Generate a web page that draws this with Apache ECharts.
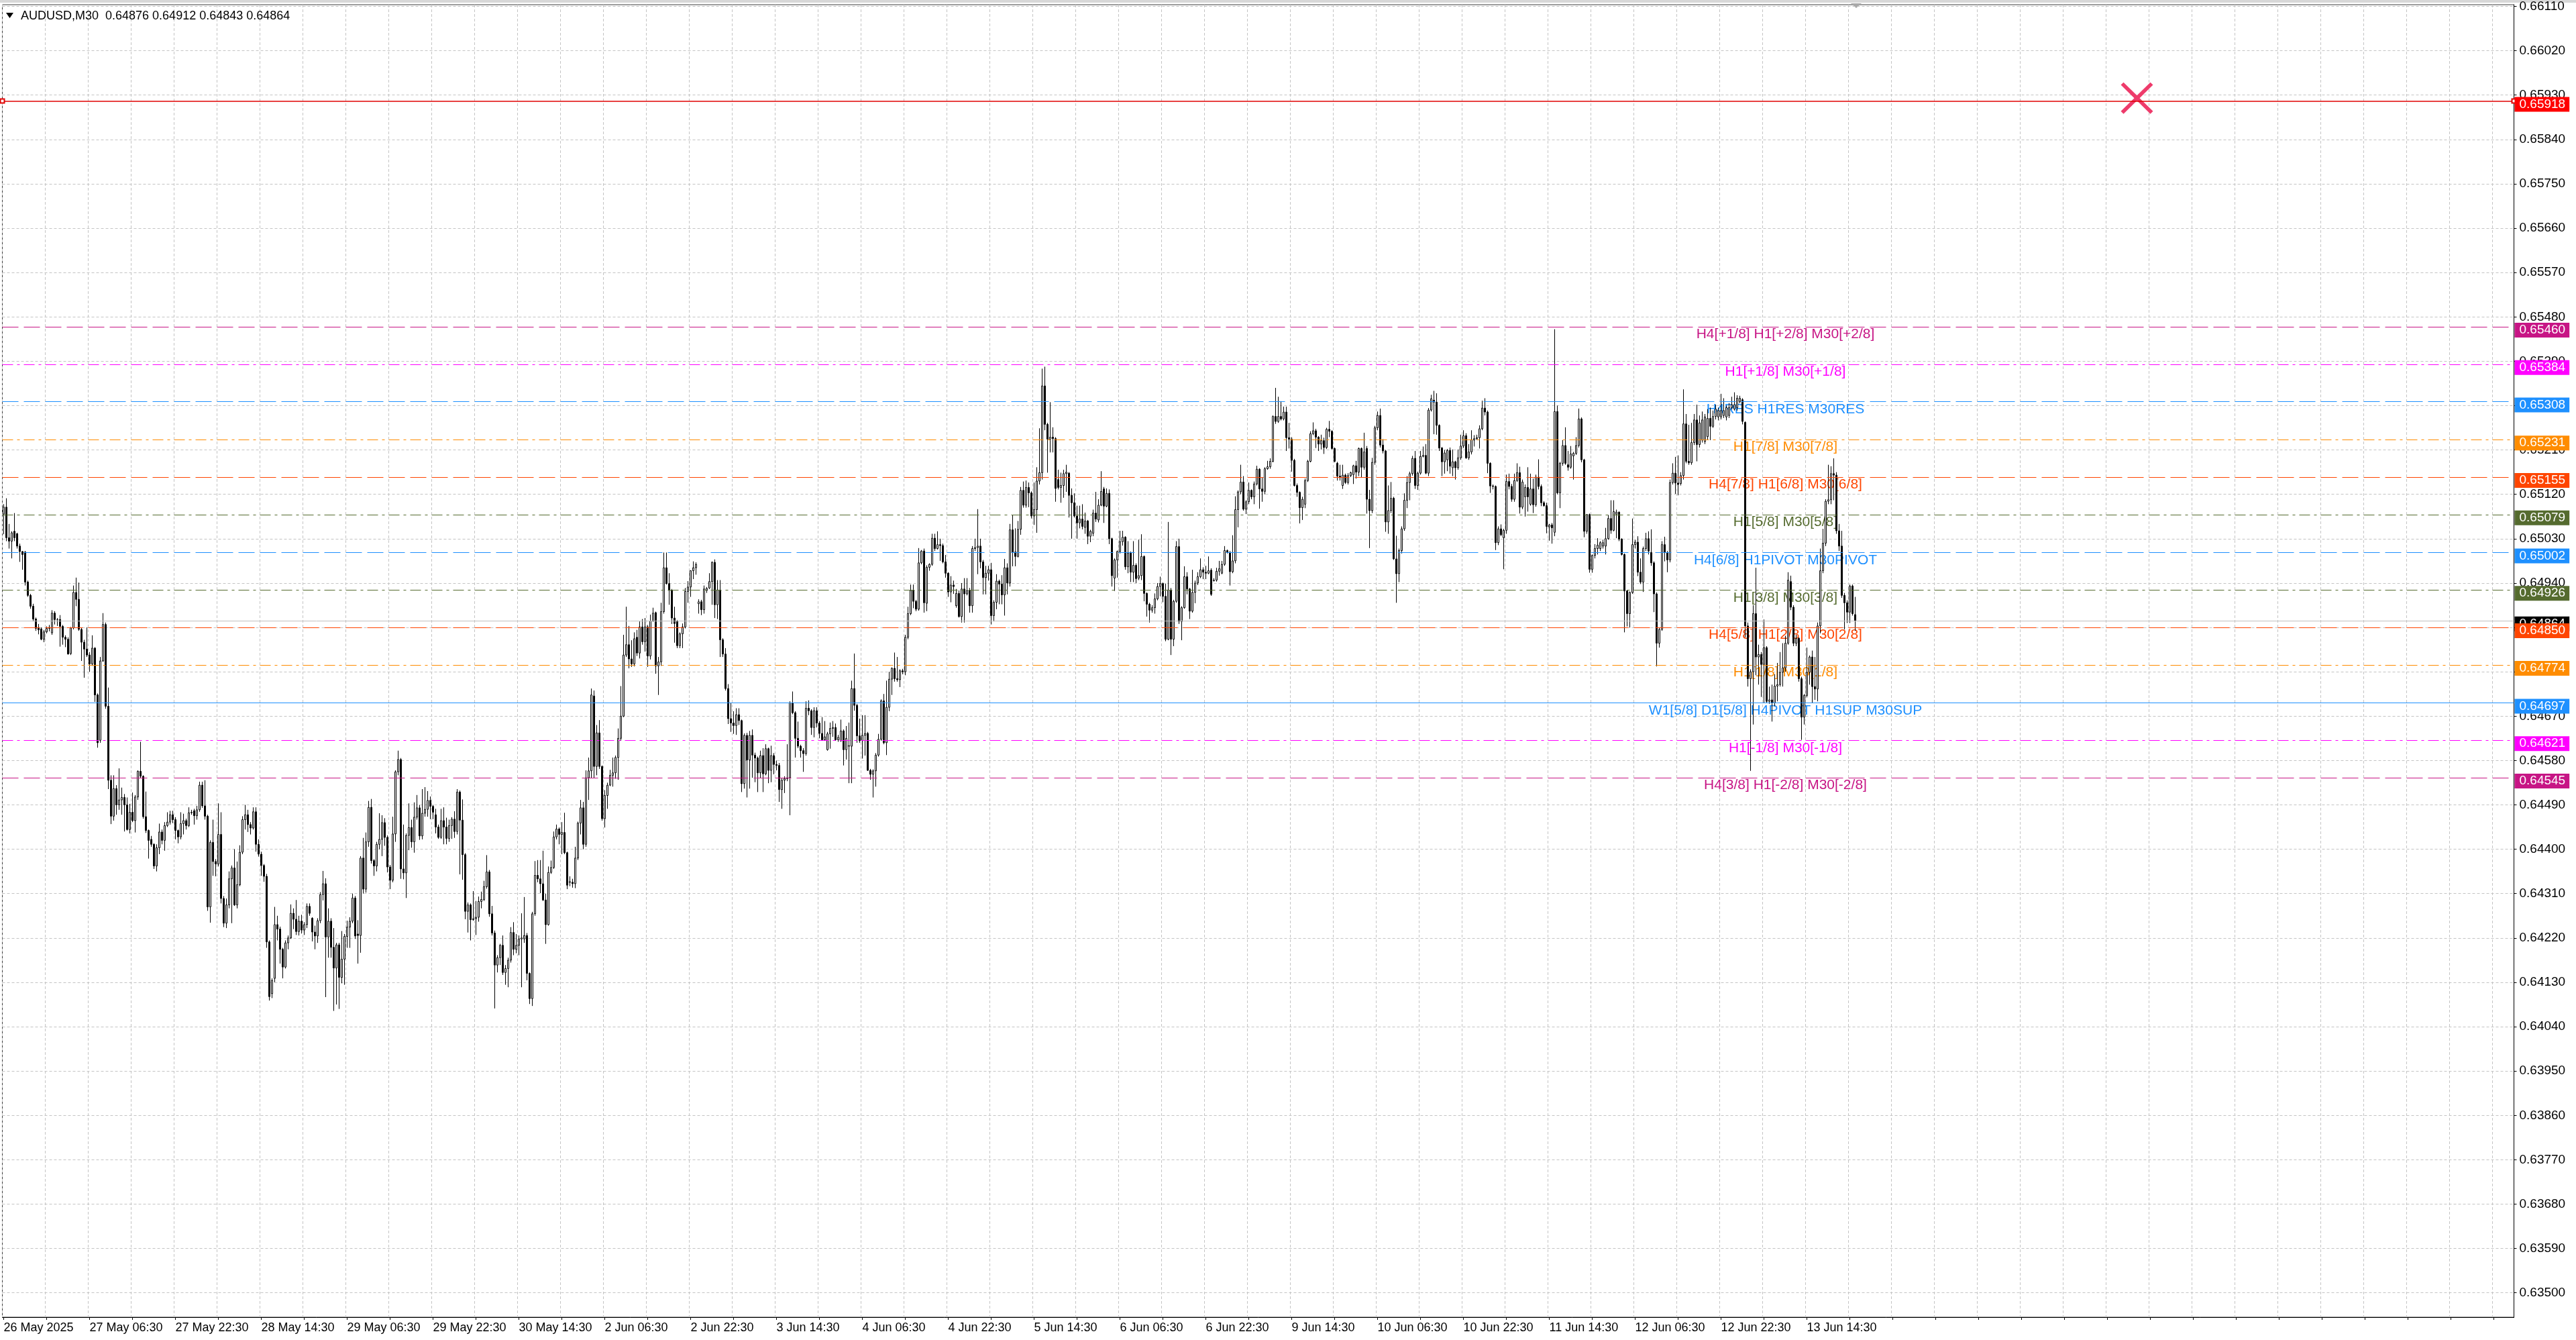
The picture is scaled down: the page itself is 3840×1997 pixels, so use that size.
<!DOCTYPE html>
<html><head><meta charset="utf-8">
<script src="https://cdn.jsdelivr.net/npm/echarts@6.0.0/dist/echarts.min.js"></script>
<style>html,body{margin:0;padding:0;background:#fff;overflow:hidden}#c{width:3840px;height:1997px}</style>
</head><body><div id="c"></div>
<script>
const symbolName = 'AUDUSD,M30';
const firstLabel = '26 May 2025';
const tradingDays = ['26 May','27 May','28 May','29 May','30 May','2 Jun','3 Jun','4 Jun','5 Jun','6 Jun','9 Jun','10 Jun','11 Jun','12 Jun','13 Jun'];
const firstSlot = 29;      // 14:30 on the first day
const totalSlots = 936;    // bars visible across the chart incl. empty right margin

// prices in points (1e-5)
const opens = [
65080,65094,65032,65025,65045,65040,65015,65004,65003,64942,
64915,64893,64867,64850,64847,64826,64841,64848,64839,64879,
64866,64866,64852,64830,64826,64797,64849,64921,64907,64846,
64820,64806,64794,64776,64808,64713,64621,64782,64856,64690,
64540,64467,64523,64490,64500,64505,64490,64440,64475,64458,
64506,64558,64548,64466,64438,64420,64410,64366,64403,64435,
64418,64448,64455,64470,64460,64438,64425,64452,64458,64448,
64474,64478,64468,64480,64530,64488,64467,64283,64414,64375,
64370,64430,64300,64250,64287,64340,64362,64287,64328,64394,
64460,64470,64450,64443,64476,64410,64390,64367,64345,64212,
64107,64138,64247,64238,64197,64161,64210,64220,64270,64258,
64233,64254,64236,64247,64284,64260,64232,64224,64255,64308,
64330,64222,64254,64201,64159,64206,64140,64177,64223,64242,
64254,64301,64228,64225,64382,64319,64415,64485,64377,64366,
64410,64420,64454,64424,64364,64337,64431,64557,64582,64360,
64352,64428,64444,64415,64465,64484,64427,64473,64481,64499,
64487,64470,64445,64424,64458,64445,64422,64448,64461,64436,
64516,64459,64389,64274,64287,64257,64259,64262,64294,64298,
64324,64354,64269,64230,64165,64180,64205,64150,64158,64175,
64231,64197,64205,64218,64218,64225,64148,64097,64269,64347,
64340,64330,64297,64247,64353,64363,64425,64441,64430,64434,
64393,64334,64333,64330,64382,64453,64484,64410,64545,64559,
64711,64568,64636,64568,64462,64509,64530,64550,64555,64586,
64625,64670,64794,64815,64786,64776,64830,64798,64851,64821,
64851,64792,64863,64880,64772,64780,64882,64971,64939,64925,
64869,64862,64813,64837,64851,64923,64932,64965,64971,64898,
64902,64886,64925,64930,64943,64982,64896,64926,64825,64796,
64726,64665,64656,64651,64673,64661,64533,64631,64581,64631,
64591,64585,64555,64590,64553,64604,64560,64590,64572,64570,
64521,64540,64543,64545,64697,64677,64625,64609,64600,64594,
64686,64681,64647,64681,64656,64635,64622,64602,64634,64645,
64647,64622,64620,64640,64602,64610,64609,64726,64692,64630,
64620,64631,64635,64560,64552,64559,64591,64623,64701,64616,
64688,64745,64767,64746,64744,64762,64760,64830,64878,64925,
64903,64887,64981,65005,64899,64972,64978,65031,65010,65018,
65016,64983,64960,64922,64936,64894,64919,64872,64928,64918,
64925,64894,65010,65012,65015,64983,64951,64960,64967,64874,
64901,64944,64938,64916,64971,64940,65048,65003,64994,65049,
65128,65098,65134,65123,65076,65089,65147,65164,65340,65262,
65232,65236,65233,65150,65134,65138,65162,65163,65118,65103,
65076,65062,65070,65053,65066,65035,65041,65082,65068,65098,
65131,65096,65122,65030,64950,64987,65004,65024,65033,64973,
65001,64962,64976,64950,64955,64994,64919,64897,64885,64890,
64908,64933,64939,64913,64826,64926,64826,64903,65014,64862,
64890,64953,64928,64883,64921,64940,64953,64967,64962,64960,
64966,64945,64946,64964,64960,64978,65006,65002,64963,64985,
65089,65125,65145,65090,65105,65128,65115,65141,65171,65131,
65126,65172,65176,65187,65278,65268,65278,65273,65287,65235,
65232,65189,65138,65124,65093,65100,65148,65187,65243,65249,
65236,65222,65229,65215,65252,65248,65213,65183,65157,65138,
65159,65144,65158,65160,65178,65165,65213,65175,65213,65110,
65087,65185,65255,65280,65220,65208,65064,65087,65112,64989,
64959,65006,65050,65108,65144,65162,65193,65138,65163,65197,
65199,65163,65291,65311,65307,65260,65214,65186,65190,65209,
65174,65186,65174,65194,65218,65239,65194,65206,65230,65233,
65235,65253,65295,65287,65183,65137,65136,65022,65050,65032,
65047,65146,65136,65110,65148,65164,65094,65115,65134,65100,
65131,65099,65155,65136,65103,65097,65054,65058,65043,65288,
65123,65183,65219,65180,65175,65198,65203,65219,65273,65190,
65045,65079,64968,64996,65010,65010,65015,65015,65030,65071,
65047,65080,65084,65029,64998,64924,64878,64921,65018,65023,
64962,64942,65010,65030,65002,64981,64918,64818,64846,65018,
65002,64987,65144,65163,65143,65142,65158,65263,65187,65184,
65225,65271,65221,65230,65227,65237,65274,65258,65278,65277,
65277,65280,65277,65280,65296,65293,65296,65308,65312,65266,
64853,64746,64760,64878,64790,64795,64775,64809,64700,64703,
64697,64731,64734,64759,64768,64818,64943,64891,64818,64828,
64746,64668,64712,64759,64790,64730,64725,64853,64965,65021,
65106,65109,65162,65159,65046,65015,64915,64900,64881,64934,64876];
const highs = [
65100,65112,65060,65045,65082,65042,65020,65005,65005,64945,
64918,64898,64870,64857,64850,64845,64852,64855,64885,64883,
64869,64875,64855,64834,64830,64851,64935,64951,64941,64850,
64825,64850,64800,64834,64810,64716,64790,64879,64860,64728,
64550,64550,64530,64564,64525,64512,64505,64492,64515,64510,
64560,64618,64550,64517,64440,64427,64412,64410,64452,64440,
64455,64475,64478,64478,64465,64440,64475,64472,64462,64485,
64480,64482,64488,64537,64537,64540,64470,64418,64460,64380,
64493,64475,64305,64300,64355,64367,64400,64375,64408,64467,
64490,64480,64455,64485,64485,64420,64395,64370,64350,64215,
64138,64283,64265,64243,64200,64215,64225,64288,64280,64297,
64265,64267,64252,64290,64290,64262,64245,64260,64313,64356,
64341,64280,64260,64240,64210,64210,64234,64228,64255,64262,
64310,64305,64256,64386,64423,64434,64498,64502,64380,64415,
64473,64469,64463,64428,64368,64466,64560,64600,64585,64450,
64432,64493,64460,64495,64510,64490,64522,64526,64518,64507,
64490,64482,64450,64482,64485,64464,64460,64465,64477,64522,
64519,64501,64392,64292,64290,64315,64295,64304,64314,64336,
64388,64358,64285,64235,64185,64208,64225,64165,64180,64242,
64252,64228,64225,64270,64303,64230,64150,64273,64376,64378,
64378,64397,64310,64365,64377,64436,64450,64444,64455,64474,
64395,64345,64340,64405,64456,64500,64496,64560,64586,64726,
64722,64652,64662,64570,64520,64535,64561,64586,64590,64645,
64731,64835,64892,64853,64824,64840,64845,64862,64867,64869,
64855,64876,64890,64882,64790,64900,65002,65002,64960,64928,
64892,64865,64840,64858,64930,64944,64966,64984,64982,64907,
64906,64935,64932,64960,64984,64988,64946,64946,64828,64808,
64735,64697,64680,64686,64686,64663,64635,64636,64640,64643,
64596,64588,64600,64605,64613,64606,64610,64595,64580,64575,
64545,64548,64613,64700,64720,64680,64659,64612,64605,64700,
64702,64684,64688,64688,64660,64668,64660,64638,64657,64660,
64655,64632,64663,64643,64650,64657,64742,64797,64695,64665,
64672,64672,64638,64563,64562,64595,64634,64704,64715,64742,
64760,64769,64799,64790,64765,64766,64835,64892,64937,64937,
64906,65011,65007,65010,64976,64980,65040,65040,65045,65030,
65020,64997,64962,64954,64945,64928,64925,64940,64950,64950,
64930,65015,65030,65090,65030,64987,64975,64975,64981,64905,
64958,64947,64956,64989,64980,65060,65078,65051,65066,65135,
65146,65148,65144,65126,65144,65175,65254,65375,65379,65265,
65307,65256,65236,65170,65164,65170,65180,65165,65132,65122,
65097,65097,65100,65083,65068,65048,65089,65125,65110,65167,
65135,65132,65130,65032,64990,65006,65046,65046,65035,65025,
65004,65025,64980,65028,65039,64996,64921,64900,64895,64919,
64940,64953,64941,64939,65064,64930,64906,65025,65030,64893,
64974,64962,64930,64967,64945,64962,64990,64972,64975,64994,
64970,64950,64971,64985,64985,65015,65008,65005,65037,65116,
65128,65180,65157,65108,65144,65130,65146,65178,65173,65155,
65175,65188,65193,65280,65336,65318,65309,65298,65298,65265,
65236,65192,65142,65126,65115,65152,65190,65248,65266,65253,
65238,65241,65235,65255,65269,65250,65215,65186,65180,65180,
65162,65163,65166,65180,65188,65215,65215,65245,65218,65129,
65194,65259,65288,65294,65232,65210,65138,65145,65115,65036,
65010,65055,65122,65157,65166,65198,65208,65166,65208,65217,
65222,65295,65322,65330,65325,65262,65216,65210,65212,65215,
65211,65188,65211,65241,65250,65244,65222,65250,65240,65241,
65260,65310,65315,65290,65185,65140,65138,65055,65059,65050,
65160,65162,65141,65162,65183,65176,65150,65140,65175,65162,
65152,65160,65191,65140,65106,65103,65060,65062,65455,65300,
65186,65230,65256,65208,65218,65206,65236,65294,65276,65192,
65080,65081,64998,65019,65031,65025,65028,65052,65078,65108,
65108,65089,65085,65031,65000,64926,64923,65071,65028,65035,
64990,65014,65042,65045,65049,64984,64921,64850,65025,65034,
65005,65150,65183,65196,65199,65165,65333,65283,65261,65265,
65283,65302,65280,65288,65283,65293,65296,65290,65302,65296,
65324,65315,65300,65305,65318,65327,65321,65320,65315,65268,
64860,64765,64895,64971,64815,64800,64866,64812,64730,64734,
64755,64778,64800,64818,64833,64962,64955,64895,64835,64830,
64750,64715,64809,64793,64803,64790,64860,65010,65050,65110,
65180,65177,65193,65165,65060,65046,64920,64905,64937,64937,64912];
const lows = [
65039,65025,65010,64990,65025,65010,64983,64967,64935,64912,
64888,64862,64843,64836,64824,64820,64838,64842,64835,64856,
64853,64811,64815,64810,64795,64794,64846,64893,64843,64782,
64748,64790,64760,64772,64699,64606,64616,64780,64685,64522,
64451,64458,64470,64480,64470,64436,64438,64432,64455,64434,
64500,64545,64462,64433,64381,64405,64360,64355,64390,64410,
64397,64445,64450,64453,64420,64412,64420,64430,64440,64445,
64470,64450,64460,64476,64484,64460,64275,64251,64346,64345,
64365,64290,64242,64240,64280,64250,64285,64280,64325,64390,
64440,64435,64430,64440,64395,64385,64346,64334,64200,64093,
64098,64130,64215,64168,64138,64158,64197,64218,64238,64226,
64225,64229,64226,64240,64265,64213,64197,64210,64250,64296,
64100,64180,64180,64072,64085,64076,64128,64125,64200,64200,
64250,64218,64168,64190,64310,64312,64405,64371,64346,64355,
64400,64386,64407,64353,64319,64333,64415,64550,64340,64339,
64301,64398,64403,64393,64460,64419,64420,64466,64466,64461,
64461,64432,64421,64421,64410,64410,64415,64421,64423,64430,
64349,64338,64258,64231,64215,64255,64226,64253,64280,64295,
64320,64263,64225,64077,64150,64165,64145,64125,64120,64170,
64185,64189,64185,64120,64210,64134,64086,64082,64265,64333,
64311,64295,64208,64245,64350,64360,64420,64410,64390,64390,
64319,64325,64322,64321,64378,64430,64400,64405,64500,64545,
64545,64550,64563,64458,64444,64482,64528,64527,64543,64541,
64620,64668,64790,64767,64770,64771,64792,64787,64815,64801,
64770,64785,64861,64756,64713,64772,64878,64937,64896,64857,
64819,64808,64808,64808,64848,64900,64912,64948,64957,64878,
64875,64878,64920,64928,64896,64869,64867,64790,64790,64722,
64654,64638,64634,64632,64652,64516,64523,64505,64523,64545,
64536,64516,64545,64516,64550,64534,64536,64552,64560,64496,
64482,64514,64538,64469,64674,64586,64605,64586,64557,64590,
64672,64632,64627,64647,64625,64620,64620,64600,64604,64628,
64620,64618,64618,64570,64582,64534,64534,64681,64616,64616,
64584,64590,64559,64541,64505,64527,64588,64620,64613,64591,
64680,64713,64740,64740,64729,64755,64753,64826,64875,64889,
64883,64884,64978,64880,64883,64965,64975,65005,65008,64985,
64980,64951,64912,64901,64918,64890,64870,64860,64860,64915,
64880,64880,65005,64958,64970,64917,64917,64945,64856,64862,
64887,64897,64897,64874,64917,64933,64974,64974,64992,65038,
65093,65093,65094,65071,65058,65042,65140,65150,65250,65164,
65205,65205,65105,65130,65103,65113,65125,65073,65030,65073,
65030,65051,65049,65040,65019,65023,65035,65064,65063,65096,
65062,65094,65019,64933,64924,64951,65000,65016,64967,64960,
64942,64942,64940,64946,64946,64903,64872,64860,64880,64878,
64905,64913,64901,64822,64824,64794,64812,64900,64857,64824,
64888,64917,64867,64880,64899,64936,64950,64948,64948,64958,
64914,64943,64943,64955,64958,64975,65000,64935,64960,64980,
65053,65120,65087,65080,65100,65110,65100,65138,65091,65105,
65120,65170,65172,65185,65263,65265,65270,65270,65208,65213,
65166,65136,65115,65061,65068,65092,65145,65185,65240,65214,
65208,65211,65202,65212,65236,65211,65185,65148,65148,65131,
65141,65140,65155,65141,65152,65157,65155,65170,65081,65011,
65082,65180,65250,65215,65203,65044,65040,65082,64987,64900,
64942,65000,65046,65092,65108,65158,65131,65129,65160,65195,
65161,65157,65288,65242,65241,65208,65157,65162,65167,65162,
65157,65150,65170,65190,65214,65192,65190,65201,65217,65230,
65213,65250,65280,65163,65123,65130,65007,65017,65035,64968,
65040,65130,65105,65105,65145,65081,65090,65075,65085,65097,
65082,65095,65130,65096,65095,65041,65026,65020,65035,65120,
65092,65178,65180,65168,65172,65150,65200,65215,65185,65033,
65040,64961,64961,64990,64998,65005,65010,64998,65028,65040,
65045,65031,65025,64996,64840,64852,64850,64918,65010,64954,
64938,64922,65005,64998,64975,64881,64771,64809,64843,64984,
64962,64982,65140,65121,65118,65138,65150,65183,65180,65180,
65220,65187,65215,65225,65222,65230,65230,65255,65272,65270,
65272,65275,65270,65275,65292,65290,65290,65305,65262,64830,
64730,64559,64653,64753,64734,64709,64697,64697,64695,64659,
64690,64700,64730,64730,64760,64815,64885,64812,64812,64740,
64622,64653,64708,64734,64697,64703,64700,64838,64960,65015,
65100,65100,65108,65040,65005,64910,64846,64859,64859,64874,64843];
const closes = [
65094,65032,65025,65042,65032,65015,65004,64998,64942,64915,
64893,64867,64848,64845,64826,64841,64848,64850,64879,64866,
64866,64852,64830,64826,64796,64849,64921,64907,64846,64820,
64806,64794,64776,64808,64713,64616,64782,64856,64690,64540,
64467,64523,64490,64500,64505,64490,64440,64475,64458,64506,
64558,64548,64466,64438,64418,64410,64366,64403,64435,64418,
64448,64455,64470,64460,64438,64425,64452,64458,64448,64474,
64475,64468,64480,64530,64488,64467,64283,64414,64375,64370,
64430,64300,64250,64287,64340,64362,64287,64328,64394,64460,
64470,64450,64443,64476,64410,64390,64367,64345,64212,64101,
64134,64247,64238,64197,64161,64210,64220,64270,64258,64233,
64254,64236,64247,64284,64270,64232,64224,64255,64308,64330,
64222,64254,64201,64159,64206,64140,64177,64223,64242,64254,
64301,64224,64225,64382,64319,64415,64485,64377,64366,64410,
64420,64454,64424,64364,64337,64431,64557,64582,64360,64352,
64428,64444,64415,64465,64484,64427,64473,64481,64499,64487,
64475,64445,64424,64458,64445,64422,64448,64461,64436,64516,
64459,64389,64274,64287,64257,64259,64262,64294,64298,64324,
64354,64269,64230,64165,64180,64205,64150,64158,64175,64231,
64197,64205,64218,64220,64225,64148,64097,64269,64347,64340,
64330,64297,64247,64353,64363,64425,64441,64430,64434,64393,
64327,64333,64330,64382,64453,64484,64410,64545,64559,64713,
64568,64636,64568,64462,64509,64530,64550,64555,64586,64625,
64670,64794,64815,64786,64776,64827,64798,64851,64821,64851,
64792,64863,64879,64772,64780,64882,64971,64939,64925,64869,
64858,64813,64837,64851,64923,64932,64965,64971,64978,64902,
64886,64928,64929,64943,64982,64896,64926,64825,64796,64726,
64665,64656,64651,64673,64661,64533,64631,64581,64631,64591,
64585,64555,64590,64553,64604,64560,64590,64572,64570,64521,
64540,64543,64545,64697,64677,64625,64609,64600,64594,64686,
64681,64647,64681,64656,64635,64622,64628,64634,64645,64647,
64622,64627,64640,64602,64625,64609,64726,64692,64630,64620,
64631,64635,64560,64552,64559,64591,64623,64701,64616,64688,
64745,64767,64746,64744,64762,64760,64830,64878,64925,64903,
64887,64981,65005,64900,64972,64978,65031,65010,65018,65016,
64983,64960,64922,64936,64933,64919,64872,64928,64918,64925,
64894,65010,65012,65015,64983,64951,64960,64967,64874,64901,
64944,64938,64916,64971,64940,65048,65003,64994,65049,65128,
65098,65134,65123,65076,65089,65147,65164,65340,65262,65232,
65236,65233,65132,65134,65138,65162,65165,65118,65103,65076,
65062,65070,65055,65066,65035,65045,65082,65070,65098,65126,
65096,65122,65030,64955,64987,65004,65024,65033,64973,65001,
64962,64976,64949,64955,64994,64919,64897,64885,64890,64908,
64933,64939,64913,64826,64926,64826,64903,65014,64862,64890,
64953,64928,64883,64921,64940,64953,64967,64962,64960,64965,
64917,64946,64964,64969,64978,65006,65002,64963,64985,65089,
65125,65145,65090,65105,65128,65115,65141,65171,65131,65126,
65172,65176,65187,65278,65268,65278,65273,65287,65235,65232,
65189,65138,65124,65093,65110,65148,65187,65243,65249,65236,
65222,65229,65215,65252,65248,65213,65187,65157,65155,65159,
65144,65158,65164,65178,65165,65213,65175,65206,65110,65087,
65185,65255,65280,65220,65208,65064,65087,65112,64989,64959,
65006,65050,65108,65144,65162,65193,65138,65163,65197,65199,
65163,65291,65314,65307,65260,65214,65186,65204,65209,65177,
65186,65174,65194,65218,65239,65194,65206,65231,65233,65235,
65253,65295,65287,65183,65137,65136,65022,65050,65038,65047,
65146,65136,65110,65148,65164,65094,65145,65134,65115,65131,
65099,65155,65136,65103,65097,65055,65058,65052,65288,65123,
65183,65219,65183,65175,65202,65203,65219,65273,65190,65045,
65079,64968,64996,65010,65017,65022,65022,65030,65071,65047,
65085,65084,65029,64998,64924,64878,64921,65018,65023,64962,
64942,65010,65030,65005,64981,64918,64818,64846,65018,65002,
64987,65144,65163,65143,65140,65158,65263,65187,65184,65225,
65271,65221,65265,65271,65277,65274,65258,65278,65293,65290,
65290,65290,65296,65296,65302,65302,65315,65315,65268,64853,
64746,64760,64878,64790,64795,64775,64809,64700,64703,64697,
64731,64734,64759,64768,64818,64946,64891,64818,64828,64746,
64668,64712,64759,64790,64730,64725,64853,64965,65021,65106,
65109,65162,65159,65046,65015,64915,64900,64881,64934,64878,64864];

const yTickValues = [0.63500,0.63590,0.63680,0.63770,0.63860,0.63950,0.64040,0.64130,0.64220,0.64310,
  0.64400,0.64490,0.64580,0.64670,0.64760,0.64850,0.64940,0.65030,0.65120,0.65210,
  0.65300,0.65390,0.65480,0.65570,0.65660,0.65750,0.65840,0.65930,0.66020,0.66110];
const yMin = 0.634506, yMax = 0.661134;

const levelPrices = [0.65460,0.65384,0.65308,0.65231,0.65155,0.65079,0.65002,0.64926,0.64850,0.64774,0.64697,0.64621,0.64545];
const levelTexts = ['H4[+1/8] H1[+2/8] M30[+2/8]','H1[+1/8] M30[+1/8]','H4RES H1RES M30RES','H1[7/8] M30[7/8]',
  'H4[7/8] H1[6/8] M30[6/8]','H1[5/8] M30[5/8]','H4[6/8] H1PIVOT M30PIVOT','H1[3/8] M30[3/8]',
  'H4[5/8] H1[2/8] M30[2/8]','H1[1/8] M30[1/8]','W1[5/8] D1[5/8] H4PIVOT H1SUP M30SUP','H1[-1/8] M30[-1/8]','H4[3/8] H1[-2/8] M30[-2/8]'];
const levelColors = ['#C71585','#FF00FF','#1E90FF','#FF8C00','#FF4500','#556B2F','#1E90FF','#556B2F','#FF4500','#FF8C00','#1E90FF','#FF00FF','#C71585'];
const levelKinds = ['dash','dashdot','dash','dashdot','dash','dashdot','dash','dashdot','dash','dashdot','solid','dashdot','dash'];
const levelLabelSlot = 664;
const currentPrice = 0.64864;
const alertPrice = 0.65918;
const crossMark = [795, 0.65924];

// ---- build ----
const categories = [];
tradingDays.forEach((d, di) => {
  for (let s = (di === 0 ? firstSlot : 0); s < 48; s++) {
    const hh = String(Math.floor(s / 2)).padStart(2, '0');
    categories.push(d + ' ' + hh + ':' + (s % 2 ? '30' : '00'));
  }
});
const candleCount = categories.length;
while (categories.length < totalSlots) categories.push('~' + categories.length);

const candles = opens.map((o, i) => {
  const c = closes[i];
  return [o / 1e5, c / 1e5, Math.min(lows[i], o, c) / 1e5, Math.max(highs[i], o, c) / 1e5];
});
const last = opens.length - 1;
const titleText = symbolName + '  ' + [opens[last], highs[last], lows[last], closes[last]].map(v => (v / 1e5).toFixed(5)).join(' ');

const FONT = 'Liberation Sans, Arial, sans-serif';
const dashMap = { dash: [24, 8], dashdot: [16, 6, 4, 6], solid: 'solid' };

const markLineData = [{
  yAxis: currentPrice,
  lineStyle: { color: '#C0C0C0', type: 'solid', width: 1, opacity: 1 },
  label: { backgroundColor: '#000000' }
}].concat(levelPrices.map((p, i) => ({
  yAxis: p,
  lineStyle: { color: levelColors[i], type: dashMap[levelKinds[i]], width: 1.2, opacity: 1 },
  label: { backgroundColor: levelColors[i] }
})));

const tagLabel = {
  show: true, position: 'end', distance: 1, offset: [0, 5],
  formatter: p => Number(p.value).toFixed(5),
  color: '#FFFFFF', fontSize: 19, fontFamily: FONT, opacity: 1,
  padding: [2, 6, 1, 7], lineHeight: 19
};

const chart = echarts.init(document.getElementById('c'), null, { renderer: 'canvas', width: 3840, height: 1997 });
chart.setOption({
  animation: false,
  backgroundColor: '#FFFFFF',
  textStyle: { fontFamily: FONT },
  title: {
    text: titleText, left: 31, top: 15, padding: 0,
    textStyle: { fontSize: 18, fontWeight: 'normal', color: '#000000', fontFamily: FONT, lineHeight: 18 }
  },
  graphic: [
    { type: 'rect', shape: { x: 0, y: 0, width: 3840, height: 4 }, style: { fill: '#D8D8D8' }, silent: true },
    { type: 'polygon', shape: { points: [[9, 19], [20, 19], [14.5, 27]] }, style: { fill: '#000000' }, silent: true },
    { type: 'polygon', shape: { points: [[2759, 5], [2775, 5], [2767, 12]] }, style: { fill: '#A8A8A8' }, silent: true }
  ],
  grid: {
    left: 3.5, right: 92.5, top: 7, bottom: 34,
    show: true, borderColor: '#3C3C3C', borderWidth: 1, backgroundColor: '#FFFFFF',
    containLabel: false, outerBoundsMode: 'none'
  },
  xAxis: {
    type: 'category', data: categories, boundaryGap: true,
    axisLine: { show: true, lineStyle: { color: '#000000', width: 1 } },
    axisTick: { show: true, interval: 15, length: 4, alignWithLabel: true, lineStyle: { color: '#000000' } },
    axisLabel: {
      show: true, interval: 31, align: 'left', margin: 7,
      color: '#000000', fontSize: 18, fontFamily: FONT,
      formatter: (v, idx) => idx === 0 ? firstLabel : (idx < candleCount ? v : '')
    },
    splitLine: { show: true, interval: 15, lineStyle: { color: '#C4C4C4', type: [4, 3], width: 1 } }
  },
  yAxis: {
    type: 'value', position: 'right', min: yMin, max: yMax, scale: true,
    axisLine: { show: true, onZero: false, lineStyle: { color: '#000000', width: 1 } },
    axisTick: { show: true, length: 4, customValues: yTickValues, lineStyle: { color: '#000000' } },
    axisLabel: {
      show: true, customValues: yTickValues, margin: 8,
      formatter: v => Number(v).toFixed(5), color: '#000000', fontSize: 19, fontFamily: FONT
    },
    splitLine: { show: true, lineStyle: { color: '#C4C4C4', type: [4, 3], width: 1 } }
  },
  series: [
    {
      name: 'levels', type: 'scatter', z: 1, silent: true, symbolSize: 0,
      itemStyle: { opacity: 1 },
      data: levelPrices.map((p, i) => ({
        value: [levelLabelSlot, p],
        label: { formatter: levelTexts[i], color: levelColors[i] }
      })),
      label: { show: true, position: 'bottom', distance: 1, fontSize: 21, fontFamily: FONT, opacity: 1 },
      markLine: {
        silent: true, animation: false, symbol: 'none', precision: 5,
        label: tagLabel,
        emphasis: { disabled: true },
        data: markLineData
      }
    },
    {
      name: 'alert', type: 'scatter', z: 4, silent: true,
      data: [crossMark],
      symbol: 'path://M2,0 L12,10 L22,0 L24,2 L14,12 L24,22 L22,24 L12,14 L2,24 L0,22 L10,12 L0,2 Z',
      symbolSize: [48, 47],
      itemStyle: { color: '#EE3B6B', opacity: 1 },
      markLine: {
        silent: true, animation: false, symbol: ['emptyRect', 'emptyRect'], symbolSize: 6, precision: 5,
        label: Object.assign({}, tagLabel),
        emphasis: { disabled: true },
        data: [{ yAxis: alertPrice, lineStyle: { color: '#E00000', type: 'solid', width: 1.5, opacity: 1 }, label: { backgroundColor: '#FF0000' } }]
      }
    },
    {
      name: symbolName, type: 'candlestick', z: 3, silent: true,
      large: false, progressive: 0, barWidth: 2,
      data: candles,
      itemStyle: { color: '#FFFFFF', color0: '#000000', borderColor: '#000000', borderColor0: '#000000', borderWidth: 1 }
    }
  ]
});
</script>
</body></html>
